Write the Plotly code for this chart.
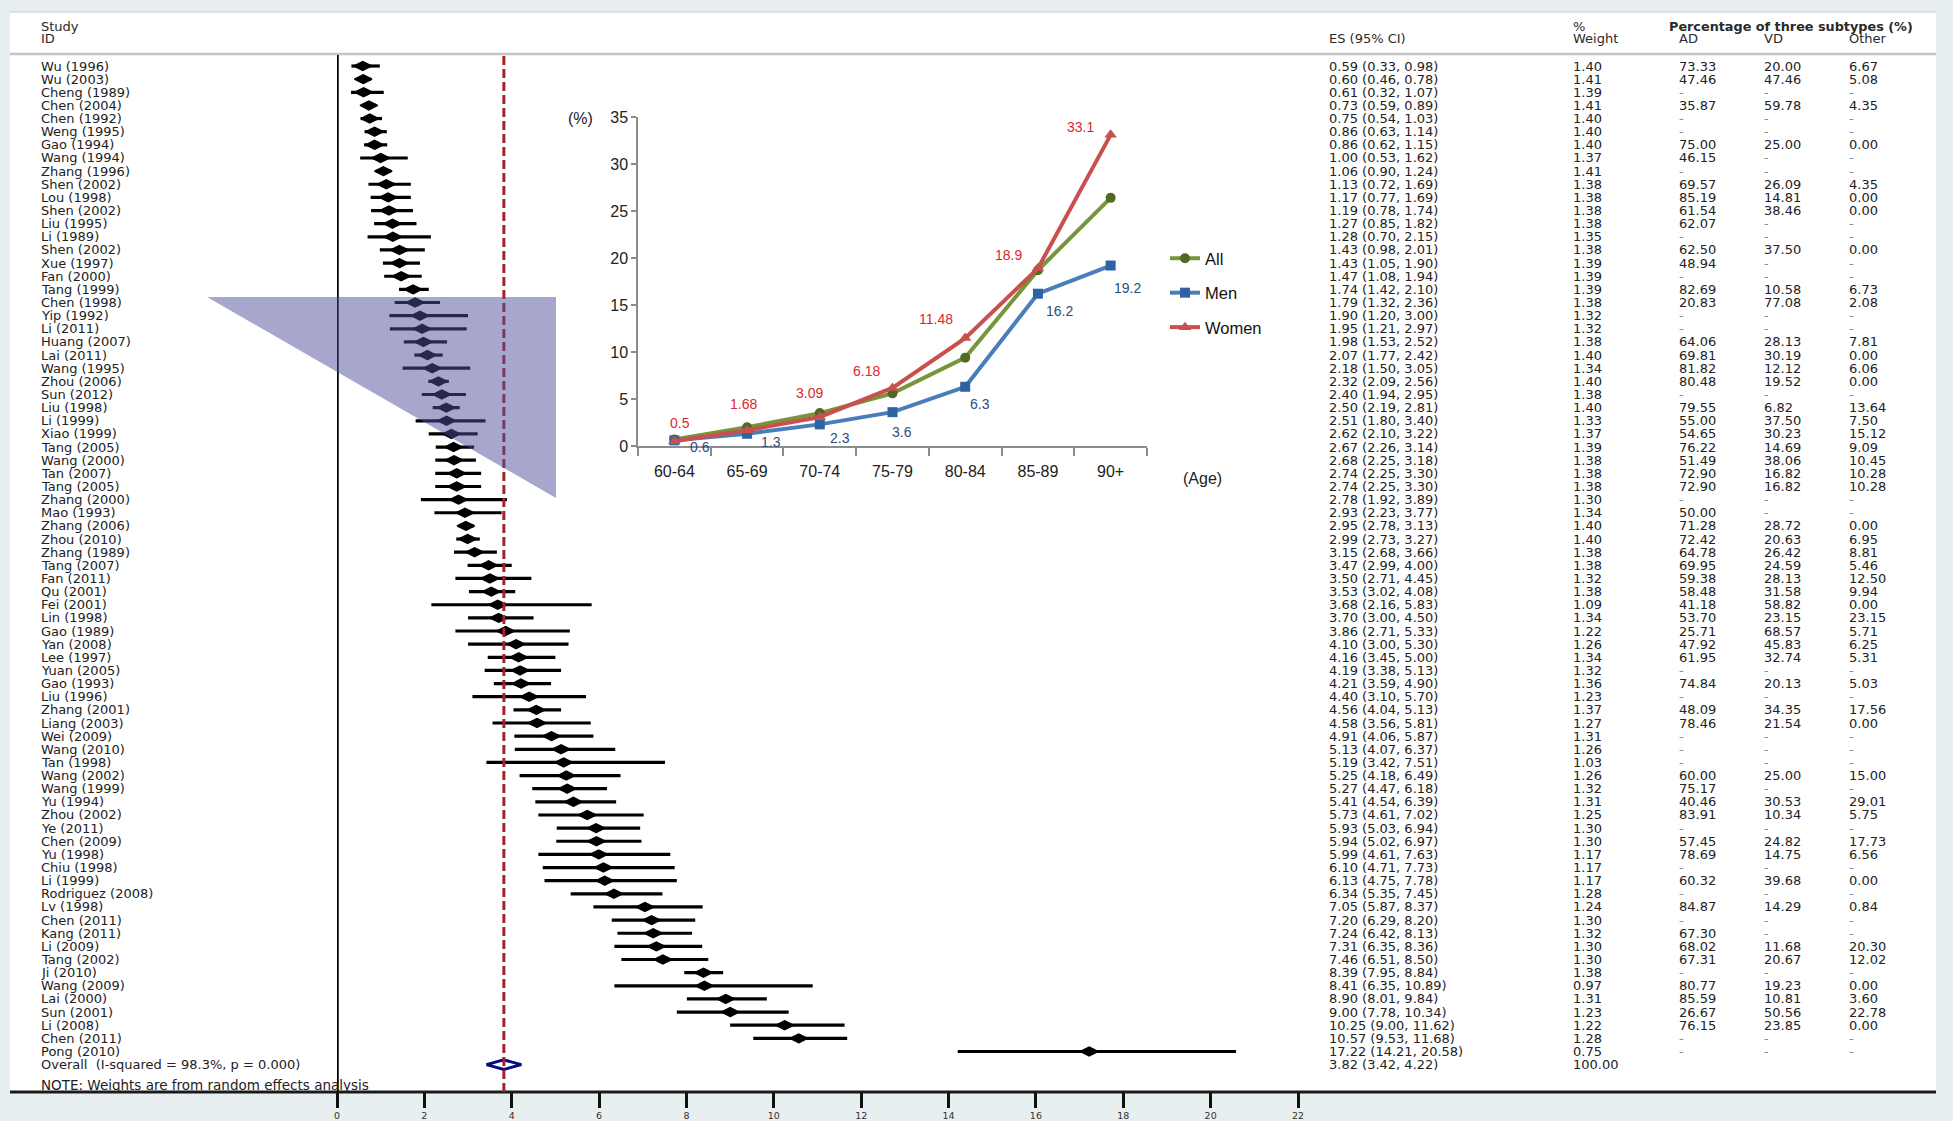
import plotly.graph_objects as go

W, H = 1953, 1121

# ---------------- data ----------------
studies = [
    "Wu (1996)", "Wu (2003)", "Cheng (1989)", "Chen (2004)", "Chen (1992)", "Weng (1995)",
    "Gao (1994)", "Wang (1994)", "Zhang (1996)", "Shen (2002)", "Lou (1998)", "Shen (2002)",
    "Liu (1995)", "Li (1989)", "Shen (2002)", "Xue (1997)", "Fan (2000)", "Tang (1999)",
    "Chen (1998)", "Yip (1992)", "Li (2011)", "Huang (2007)", "Lai (2011)", "Wang (1995)",
    "Zhou (2006)", "Sun (2012)", "Liu (1998)", "Li (1999)", "Xiao (1999)", "Tang (2005)",
    "Wang (2000)", "Tan (2007)", "Tang (2005)", "Zhang (2000)", "Mao (1993)", "Zhang (2006)",
    "Zhou (2010)", "Zhang (1989)", "Tang (2007)", "Fan (2011)", "Qu (2001)", "Fei (2001)",
    "Lin (1998)", "Gao (1989)", "Yan (2008)", "Lee (1997)", "Yuan (2005)", "Gao (1993)",
    "Liu (1996)", "Zhang (2001)", "Liang (2003)", "Wei (2009)", "Wang (2010)", "Tan (1998)",
    "Wang (2002)", "Wang (1999)", "Yu (1994)", "Zhou (2002)", "Ye (2011)", "Chen (2009)",
    "Yu (1998)", "Chiu (1998)", "Li (1999)", "Rodriguez (2008)", "Lv (1998)", "Chen (2011)",
    "Kang (2011)", "Li (2009)", "Tang (2002)", "Ji (2010)", "Wang (2009)", "Lai (2000)",
    "Sun (2001)", "Li (2008)", "Chen (2011)", "Pong (2010)",
]
es = [
    0.59, 0.60, 0.61, 0.73, 0.75, 0.86, 0.86, 1.00, 1.06, 1.13, 1.17, 1.19, 1.27, 1.28, 1.43, 1.43,
    1.47, 1.74, 1.79, 1.90, 1.95, 1.98, 2.07, 2.18, 2.32, 2.40, 2.50, 2.51, 2.62, 2.67, 2.68, 2.74,
    2.74, 2.78, 2.93, 2.95, 2.99, 3.15, 3.47, 3.50, 3.53, 3.68, 3.70, 3.86, 4.10, 4.16, 4.19, 4.21,
    4.40, 4.56, 4.58, 4.91, 5.13, 5.19, 5.25, 5.27, 5.41, 5.73, 5.93, 5.94, 5.99, 6.10, 6.13, 6.34,
    7.05, 7.20, 7.24, 7.31, 7.46, 8.39, 8.41, 8.90, 9.00, 10.25, 10.57, 17.22,
]
ci_lo = [
    0.33, 0.46, 0.32, 0.59, 0.54, 0.63, 0.62, 0.53, 0.90, 0.72, 0.77, 0.78, 0.85, 0.70, 0.98, 1.05,
    1.08, 1.42, 1.32, 1.20, 1.21, 1.53, 1.77, 1.50, 2.09, 1.94, 2.19, 1.80, 2.10, 2.26, 2.25, 2.25,
    2.25, 1.92, 2.23, 2.78, 2.73, 2.68, 2.99, 2.71, 3.02, 2.16, 3.00, 2.71, 3.00, 3.45, 3.38, 3.59,
    3.10, 4.04, 3.56, 4.06, 4.07, 3.42, 4.18, 4.47, 4.54, 4.61, 5.03, 5.02, 4.61, 4.71, 4.75, 5.35,
    5.87, 6.29, 6.42, 6.35, 6.51, 7.95, 6.35, 8.01, 7.78, 9.00, 9.53, 14.21,
]
ci_hi = [
    0.98, 0.78, 1.07, 0.89, 1.03, 1.14, 1.15, 1.62, 1.24, 1.69, 1.69, 1.74, 1.82, 2.15, 2.01, 1.90,
    1.94, 2.10, 2.36, 3.00, 2.97, 2.52, 2.42, 3.05, 2.56, 2.95, 2.81, 3.40, 3.22, 3.14, 3.18, 3.30,
    3.30, 3.89, 3.77, 3.13, 3.27, 3.66, 4.00, 4.45, 4.08, 5.83, 4.50, 5.33, 5.30, 5.00, 5.13, 4.90,
    5.70, 5.13, 5.81, 5.87, 6.37, 7.51, 6.49, 6.18, 6.39, 7.02, 6.94, 6.97, 7.63, 7.73, 7.78, 7.45,
    8.37, 8.20, 8.13, 8.36, 8.50, 8.84, 10.89, 9.84, 10.34, 11.62, 11.68, 20.58,
]
weights = [
    1.40, 1.41, 1.39, 1.41, 1.40, 1.40, 1.40, 1.37, 1.41, 1.38, 1.38, 1.38, 1.38, 1.35, 1.38, 1.39,
    1.39, 1.39, 1.38, 1.32, 1.32, 1.38, 1.40, 1.34, 1.40, 1.38, 1.40, 1.33, 1.37, 1.39, 1.38, 1.38,
    1.38, 1.30, 1.34, 1.40, 1.40, 1.38, 1.38, 1.32, 1.38, 1.09, 1.34, 1.22, 1.26, 1.34, 1.32, 1.36,
    1.23, 1.37, 1.27, 1.31, 1.26, 1.03, 1.26, 1.32, 1.31, 1.25, 1.30, 1.30, 1.17, 1.17, 1.17, 1.28,
    1.24, 1.30, 1.32, 1.30, 1.30, 1.38, 0.97, 1.31, 1.23, 1.22, 1.28, 0.75,
]
ad_pct = [
    73.33, 47.46, None, 35.87, None, None, 75.00, 46.15, None, 69.57, 85.19, 61.54, 62.07, None, 62.50, 48.94,
    None, 82.69, 20.83, None, None, 64.06, 69.81, 81.82, 80.48, None, 79.55, 55.00, 54.65, 76.22, 51.49, 72.90,
    72.90, None, 50.00, 71.28, 72.42, 64.78, 69.95, 59.38, 58.48, 41.18, 53.70, 25.71, 47.92, 61.95, None, 74.84,
    None, 48.09, 78.46, None, None, None, 60.00, 75.17, 40.46, 83.91, None, 57.45, 78.69, None, 60.32, None,
    84.87, None, 67.30, 68.02, 67.31, None, 80.77, 85.59, 26.67, 76.15, None, None,
]
vd_pct = [
    20.00, 47.46, None, 59.78, None, None, 25.00, None, None, 26.09, 14.81, 38.46, None, None, 37.50, None,
    None, 10.58, 77.08, None, None, 28.13, 30.19, 12.12, 19.52, None, 6.82, 37.50, 30.23, 14.69, 38.06, 16.82,
    16.82, None, None, 28.72, 20.63, 26.42, 24.59, 28.13, 31.58, 58.82, 23.15, 68.57, 45.83, 32.74, None, 20.13,
    None, 34.35, 21.54, None, None, None, 25.00, None, 30.53, 10.34, None, 24.82, 14.75, None, 39.68, None,
    14.29, None, None, 11.68, 20.67, None, 19.23, 10.81, 50.56, 23.85, None, None,
]
other_pct = [
    6.67, 5.08, None, 4.35, None, None, 0.00, None, None, 4.35, 0.00, 0.00, None, None, 0.00, None,
    None, 6.73, 2.08, None, None, 7.81, 0.00, 6.06, 0.00, None, 13.64, 7.50, 15.12, 9.09, 10.45, 10.28,
    10.28, None, None, 0.00, 6.95, 8.81, 5.46, 12.50, 9.94, 0.00, 23.15, 5.71, 6.25, 5.31, None, 5.03,
    None, 17.56, 0.00, None, None, None, 15.00, None, 29.01, 5.75, None, 17.73, 6.56, None, 0.00, None,
    0.84, None, None, 20.30, 12.02, None, 0.00, 3.60, 22.78, 0.00, None, None,
]
overall_label = "Overall  (I-squared = 98.3%, p = 0.000)"
overall_es, overall_lo, overall_hi, overall_weight = 3.82, 3.42, 4.22, 100.00
note_text = "NOTE: Weights are from random effects analysis"
forest_ticks = [0, 2, 4, 6, 8, 10, 12, 14, 16, 18, 20, 22]

age_groups = ["60-64", "65-69", "70-74", "75-79", "80-84", "85-89", "90+"]
prev_all = [0.7, 2.0, 3.5, 5.6, 9.4, 18.7, 26.4]
prev_men = [0.6, 1.3, 2.3, 3.6, 6.3, 16.2, 19.2]
prev_women = [0.5, 1.68, 3.09, 6.18, 11.48, 18.9, 33.1]
men_labels = ["0.6", "1.3", "2.3", "3.6", "6.3", "16.2", "19.2"]
women_labels = ["0.5", "1.68", "3.09", "6.18", "11.48", "18.9", "33.1"]

# ---------------- layout helpers (pixel -> paper) ----------------
def px(x):
    return x / W

def py(y):
    return 1 - y / H

ROW0_PX, ROW_STEP = 66.0, 13.14
TOP_PX, BOT_PX = 55.0, 1092.0
def row_at(pix):
    return (pix - ROW0_PX) / ROW_STEP

n = len(studies)
rows = list(range(n))
overall_row = n

FAM = "DejaVu Sans, Arial, sans-serif"
TXT = dict(family=FAM, size=13, color="#222222")
NAME_TXT = dict(family=FAM, size=13, color="#222222")
DASH_TXT = dict(family=FAM, size=13, color="#8a8a8a")
INSET_FONT = "Liberation Sans, Arial, sans-serif"

fig = go.Figure()

# CI lines
cx, cy = [], []
for i in rows:
    cx += [ci_lo[i], ci_hi[i], None]
    cy += [i, i, None]
fig.add_trace(go.Scatter(x=cx, y=cy, mode="lines", line=dict(color="black", width=3.2),
                         xaxis="x", yaxis="y", showlegend=False, hoverinfo="skip"))
# point estimates
fig.add_trace(go.Scatter(x=es, y=rows, mode="markers", xaxis="x", yaxis="y",
                         marker=dict(symbol="diamond-wide", size=12.5, color="black",
                                     line=dict(color="black", width=1.5)),
                         showlegend=False))
# overall diamond
fig.add_trace(go.Scatter(
    x=[overall_lo, overall_es, overall_hi, overall_es, overall_lo],
    y=[overall_row, overall_row - 0.36, overall_row, overall_row + 0.36, overall_row],
    mode="lines", line=dict(color="#0a0a80", width=3), xaxis="x", yaxis="y",
    showlegend=False, hoverinfo="skip"))

# inset line chart
series = [
    ("All", prev_all, "#77953a", "#4f6a22", "circle", 10),
    ("Men", prev_men, "#4a7ebb", "#2f62a0", "square", 10),
    ("Women", prev_women, "#c8504d", "#c8504d", "triangle-up", 11),
]
for name, vals, lc, mc, sym, ms in series:
    fig.add_trace(go.Scatter(
        x=age_groups, y=vals, mode="lines+markers", name=name, legendgroup=name,
        line=dict(color=lc, width=4), marker=dict(symbol=sym, size=ms, color=mc),
        xaxis="x2", yaxis="y2"))

shapes = []
# white panel
shapes.append(dict(type="rect", xref="paper", yref="paper", x0=px(10), x1=px(1936),
                   y0=py(BOT_PX), y1=py(12), fillcolor="white", line=dict(width=0), layer="below"))
# thin top border of the panel
shapes.append(dict(type="line", xref="paper", yref="paper", x0=px(10), x1=px(1936),
                   y0=py(12), y1=py(12), line=dict(color="#d4d8da", width=1.5), layer="below"))
# header separator
shapes.append(dict(type="line", xref="paper", yref="paper", x0=px(10), x1=px(1936),
                   y0=py(54), y1=py(54), line=dict(color="#c4c4c4", width=2.5), layer="below"))
# bottom axis line
shapes.append(dict(type="line", xref="paper", yref="paper", x0=px(10), x1=px(1936),
                   y0=py(BOT_PX), y1=py(BOT_PX), line=dict(color="#1a1a1a", width=3)))
# null line at 0
shapes.append(dict(type="line", xref="x", yref="y domain", x0=0, x1=0, y0=0, y1=1,
                   line=dict(color="black", width=3.5)))
# overall effect line
shapes.append(dict(type="line", xref="x", yref="y domain", x0=overall_es, x1=overall_es,
                   y0=0, y1=1, line=dict(color="#a3222c", width=3, dash="9px,4px")))
# callout triangle
tri = "M {} {} L {} {} L {} {} Z".format(px(207), py(297), px(556), py(297), px(556), py(498))
shapes.append(dict(type="path", xref="paper", yref="paper", path=tri,
                   fillcolor="rgba(80,80,158,0.5)", line=dict(width=0), layer="above"))

ann = []
def txt(x, y, s, yref="y", font=TXT, **kw):
    d = dict(x=px(x), y=y, xref="paper", yref=yref, text=s, showarrow=False,
             xanchor="left", yanchor="middle", font=font)
    d.update(kw)
    ann.append(d)

def fmt(v):
    return "-" if v is None else f"{v:.2f}"

COL_STUDY, COL_ES, COL_W, COL_AD, COL_VD, COL_OT = 39, 1327, 1571, 1677, 1762, 1847
for i in rows:
    txt(COL_STUDY, i, studies[i], font=NAME_TXT)
    txt(COL_ES, i, f"{es[i]:.2f} ({ci_lo[i]:.2f}, {ci_hi[i]:.2f})")
    txt(COL_W, i, f"{weights[i]:.2f}")
    for col, arr in ((COL_AD, ad_pct), (COL_VD, vd_pct), (COL_OT, other_pct)):
        v = arr[i]
        txt(col, i, fmt(v), font=TXT if v is not None else DASH_TXT)
txt(COL_STUDY, overall_row, overall_label, font=NAME_TXT)
txt(COL_ES, overall_row, f"{overall_es:.2f} ({overall_lo:.2f}, {overall_hi:.2f})")
txt(COL_W, overall_row, f"{overall_weight:.2f}")
txt(COL_STUDY, row_at(1085), note_text, font=dict(family=FAM, size=13.5, color="#222222"))

# headers
HDR = dict(family=FAM, size=13, color="#2a2a2a")
txt(COL_STUDY, py(26), "Study", yref="paper", font=HDR)
txt(COL_STUDY, py(39), "ID", yref="paper", font=HDR)
txt(COL_ES, py(39), "ES (95% CI)", yref="paper", font=HDR)
txt(COL_W, py(26), "%", yref="paper", font=HDR)
txt(COL_W, py(39), "Weight", yref="paper", font=HDR)
txt(1667, py(26), "<b>Percentage of three subtypes (%)</b>", yref="paper",
    font=dict(family=FAM, size=12.8, color="#2a2a2a"))
txt(COL_AD, py(39), "AD", yref="paper", font=HDR)
txt(COL_VD, py(39), "VD", yref="paper", font=HDR)
txt(COL_OT, py(39), "Other", yref="paper", font=HDR)

# inset labels
women_off = [(6, 18), (-4, 26), (-10, 24), (-26, 17), (-29, 19), (-29, 13), (-30, 8)]
men_off = [(26, -7), (24, -8), (20, -14), (9, -20), (15, -17), (22, -17), (17, -22)]
for k, g in enumerate(age_groups):
    ann.append(dict(x=g, y=prev_women[k], xref="x2", yref="y2", text=women_labels[k],
                    showarrow=False, xshift=women_off[k][0], yshift=women_off[k][1],
                    font=dict(family=INSET_FONT, size=14, color="#e0262b")))
    ann.append(dict(x=g, y=prev_men[k], xref="x2", yref="y2", text=men_labels[k],
                    showarrow=False, xshift=men_off[k][0], yshift=men_off[k][1],
                    font=dict(family=INSET_FONT, size=14, color="#2e4d7c")))
ann.append(dict(x=px(580), y=py(118), xref="paper", yref="paper", text="(%)", showarrow=False,
                xanchor="center", yanchor="middle", font=dict(family=INSET_FONT, size=16, color="#222")))
ann.append(dict(x=px(1181), y=py(478), xref="paper", yref="paper", text="(Age)", showarrow=False,
                xanchor="left", yanchor="middle", font=dict(family=INSET_FONT, size=16, color="#222")))

fig.update_layout(
    width=W, height=H, autosize=False,
    margin=dict(l=0, r=0, t=0, b=0, pad=0, autoexpand=False),
    paper_bgcolor="#e7eff1", plot_bgcolor="rgba(0,0,0,0)",
    shapes=shapes, annotations=ann,
    xaxis=dict(domain=[px(337), px(1298)], range=[0, 22], anchor="y", automargin=False,
               tickvals=forest_ticks, ticks="outside", ticklen=15, tickwidth=3, tickcolor="#111",
               showgrid=False, zeroline=False, showline=False,
               tickfont=dict(family=FAM, size=9.5, color="#333")),
    yaxis=dict(domain=[py(BOT_PX), py(TOP_PX)], range=[row_at(BOT_PX), row_at(TOP_PX)],
               visible=False, showgrid=False, zeroline=False, automargin=False),
    xaxis2=dict(domain=[px(638), px(1147)], anchor="y2", type="category", range=[-0.5, 6.5],
                showline=True, linecolor="#8c8c8c", linewidth=1.5, ticks="outside",
                tickson="boundaries", ticklen=8, tickcolor="#8c8c8c", tickwidth=1.5,
                showgrid=False, zeroline=False, ticklabelstandoff=10, automargin=False,
                tickfont=dict(family=INSET_FONT, size=16, color="#222")),
    yaxis2=dict(domain=[py(446), py(117)], anchor="x2", range=[0, 35], dtick=5,
                showline=True, linecolor="#8c8c8c", linewidth=1.5, ticks="outside",
                ticklen=5, tickcolor="#8c8c8c", tickwidth=1.5, showgrid=False, zeroline=False,
                automargin=False,
                tickfont=dict(family=INSET_FONT, size=16, color="#222")),
    legend=dict(x=px(1165), y=py(241), xanchor="left", yanchor="top",
                bgcolor="rgba(0,0,0,0)", tracegroupgap=10, itemwidth=30,
                font=dict(family=INSET_FONT, size=16.5, color="#111")),
    showlegend=True,
)

fix_page = ("document.documentElement.style.margin='0';document.documentElement.style.padding='0';"
            "document.body.style.margin='0';document.body.style.padding='0';"
            "document.body.style.overflow='hidden';window.scrollTo(0,0);")
fig.write_html("out.html", config={"displayModeBar": False}, post_script=fix_page)
